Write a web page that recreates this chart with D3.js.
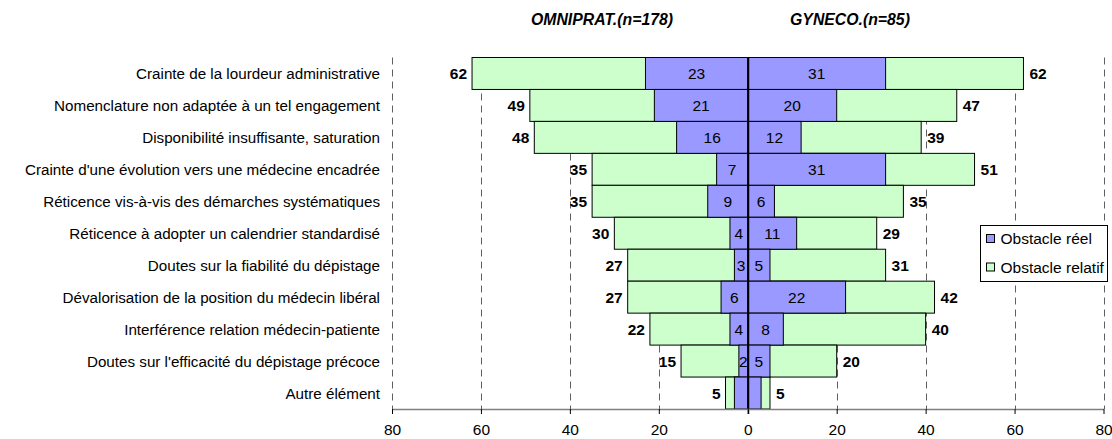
<!DOCTYPE html>
<html>
<head>
<meta charset="utf-8">
<script src="https://cdn.jsdelivr.net/npm/d3@7"></script>
<style>
  html, body { margin: 0; padding: 0; background: #fff; }
  svg { display: block; font-family: "Liberation Sans", Arial, sans-serif; }
</style>
</head>
<body>
<svg id="chart" width="1112" height="439"></svg>
<script>
// Obstacles cités, par population de médecins
const categories = [
  "Crainte de la lourdeur administrative",
  "Nomenclature non adaptée à un tel engagement",
  "Disponibilité insuffisante, saturation",
  "Crainte d'une évolution vers une médecine encadrée",
  "Réticence vis-à-vis des démarches systématiques",
  "Réticence à adopter un calendrier standardisé",
  "Doutes sur la fiabilité du dépistage",
  "Dévalorisation de la position du médecin libéral",
  "Interférence relation médecin-patiente",
  "Doutes sur l'efficacité du dépistage précoce",
  "Autre élément"
];
// Omnipraticiens : total (réel + relatif) et obstacle réel
const omniTotal = [62, 49, 48, 35, 35, 30, 27, 27, 22, 15, 5];
const omniReel  = [23, 21, 16, 7, 9, 4, 3, 6, 4, 2, 3];
// Gynécologues : total (réel + relatif) et obstacle réel
const gyneTotal = [62, 47, 39, 51, 35, 29, 31, 42, 40, 20, 5];
const gyneReel  = [31, 20, 12, 31, 6, 11, 5, 22, 8, 5, 3];
// Lignes dont la valeur "réel" n'est pas étiquetée
const unlabeledReel = ["Autre élément"];

const groupTitles = ["OMNIPRAT.(n=178)", "GYNECO.(n=85)"];
const seriesNames = ["Obstacle réel", "Obstacle relatif"];
const tickValues = [-80, -60, -40, -20, 0, 20, 40, 60, 80];

const COL_REEL = "#9999FF";
const COL_REL = "#CCFFCC";
const FS = 15.5;

const svg = d3.select("#chart");
const x = d3.scaleLinear().domain([-80, 80]).range([392, 1103.5]);
const y = d3.scaleBand().domain(categories).range([57.5, 409]).padding(0);
const plotTop = y.range()[0], plotBottom = y.range()[1];

// dashed vertical gridlines
svg.append("g")
  .selectAll("line")
  .data(tickValues.filter(d => d !== 0))
  .join("line")
  .attr("x1", d => Math.round(x(d)) + 0.5)
  .attr("x2", d => Math.round(x(d)) + 0.5)
  .attr("y1", plotTop)
  .attr("y2", plotBottom)
  .attr("stroke", "#606060")
  .attr("stroke-width", 1)
  .attr("stroke-dasharray", "7,5");

const rows = categories.map((c, i) => ({
  cat: c,
  omniTotal: omniTotal[i], omniReel: omniReel[i],
  gyneTotal: gyneTotal[i], gyneReel: gyneReel[i]
}));

const bars = svg.append("g").attr("stroke", "#000").attr("stroke-width", 1);

// left side (omnipraticiens) : total then réel on top
bars.selectAll("rect.omniT").data(rows).join("rect")
  .attr("class", "omniT")
  .attr("x", d => x(-d.omniTotal))
  .attr("width", d => x(0) - x(-d.omniTotal))
  .attr("y", d => y(d.cat))
  .attr("height", y.bandwidth())
  .attr("fill", COL_REL);
bars.selectAll("rect.omniR").data(rows).join("rect")
  .attr("class", "omniR")
  .attr("x", d => x(-d.omniReel))
  .attr("width", d => x(0) - x(-d.omniReel))
  .attr("y", d => y(d.cat))
  .attr("height", y.bandwidth())
  .attr("fill", COL_REEL);

// right side (gynécologues)
bars.selectAll("rect.gyneT").data(rows).join("rect")
  .attr("class", "gyneT")
  .attr("x", x(0))
  .attr("width", d => x(d.gyneTotal) - x(0))
  .attr("y", d => y(d.cat))
  .attr("height", y.bandwidth())
  .attr("fill", COL_REL);
bars.selectAll("rect.gyneR").data(rows).join("rect")
  .attr("class", "gyneR")
  .attr("x", x(0))
  .attr("width", d => x(d.gyneReel) - x(0))
  .attr("y", d => y(d.cat))
  .attr("height", y.bandwidth())
  .attr("fill", COL_REEL);

// central zero line
svg.append("line")
  .attr("x1", Math.round(x(0)) + 0.5).attr("x2", Math.round(x(0)) + 0.5)
  .attr("y1", plotTop).attr("y2", plotBottom + 5)
  .attr("stroke", "#000").attr("stroke-width", 1.5);

const cy = d => y(d.cat) + y.bandwidth() / 2;

// labels inside the "réel" segments
const inner = svg.append("g").attr("font-size", FS).attr("fill", "#000")
  .attr("text-anchor", "middle").attr("dominant-baseline", "central");
inner.selectAll("text.oR").data(rows.filter(d => !unlabeledReel.includes(d.cat))).join("text")
  .attr("class", "oR")
  .attr("x", d => (x(-d.omniReel) + x(0)) / 2)
  .attr("y", cy)
  .text(d => d.omniReel);
inner.selectAll("text.gR").data(rows.filter(d => !unlabeledReel.includes(d.cat))).join("text")
  .attr("class", "gR")
  .attr("x", d => (x(d.gyneReel) + x(0)) / 2)
  .attr("y", cy)
  .text(d => d.gyneReel);

// totals outside the bar ends
const totals = svg.append("g").attr("font-size", FS).attr("font-weight", "bold")
  .attr("fill", "#000").attr("dominant-baseline", "central");
totals.selectAll("text.oT").data(rows).join("text")
  .attr("class", "oT")
  .attr("text-anchor", "end")
  .attr("x", d => x(-d.omniTotal) - 5)
  .attr("y", cy)
  .text(d => d.omniTotal);
totals.selectAll("text.gT").data(rows).join("text")
  .attr("class", "gT")
  .attr("text-anchor", "start")
  .attr("x", d => x(d.gyneTotal) + 6)
  .attr("y", cy)
  .text(d => d.gyneTotal);

// category labels
svg.append("g").attr("font-size", 15.2).attr("fill", "#000")
  .attr("text-anchor", "end").attr("dominant-baseline", "central")
  .selectAll("text").data(categories).join("text")
  .attr("x", 380)
  .attr("y", d => y(d) + y.bandwidth() / 2)
  .text(d => d);

// bottom axis
const axis = svg.append("g")
  .attr("transform", `translate(0,${plotBottom})`)
  .call(d3.axisBottom(x).tickValues(tickValues).tickFormat(d => Math.abs(d))
    .tickSize(5).tickSizeOuter(0));
axis.select(".domain").attr("stroke", "#808080").attr("stroke-width", 1.5);
axis.selectAll(".tick line").attr("stroke", "#000");
axis.selectAll(".tick text")
  .attr("font-size", FS).attr("font-family", "Liberation Sans, Arial, sans-serif")
  .attr("fill", "#000").attr("y", 10).attr("dy", "1.05em");

// group titles
svg.append("g").attr("font-size", 15.8).attr("font-weight", "bold").attr("font-style", "italic")
  .attr("text-anchor", "middle").attr("fill", "#000")
  .selectAll("text").data(groupTitles).join("text")
  .attr("x", (d, i) => i === 0 ? 602 : 850)
  .attr("y", 25)
  .text(d => d);

// legend
const lg = svg.append("g").attr("transform", "translate(980.5,225.5)");
lg.append("rect").attr("width", 127).attr("height", 56)
  .attr("fill", "#fff").attr("stroke", "#000").attr("stroke-width", 1);
const items = lg.selectAll("g.item").data(seriesNames).join("g")
  .attr("class", "item")
  .attr("transform", (d, i) => `translate(6,${13 + i * 28.5})`);
items.append("rect").attr("x", 0).attr("y", -4).attr("width", 8).attr("height", 8)
  .attr("fill", (d, i) => i === 0 ? COL_REEL : COL_REL)
  .attr("stroke", "#000").attr("stroke-width", 1);
items.append("text").attr("x", 14).attr("y", 0)
  .attr("dominant-baseline", "central").attr("font-size", FS).attr("fill", "#000")
  .text(d => d);
</script>
</body>
</html>
